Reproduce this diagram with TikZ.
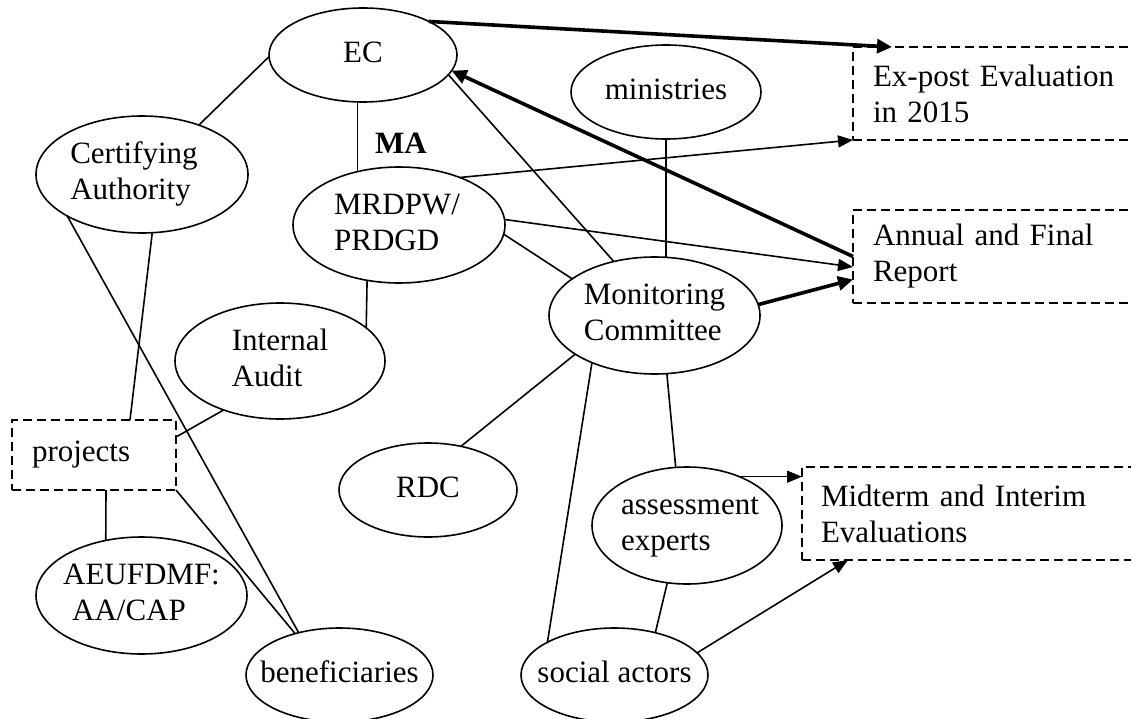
\documentclass[tikz,border=0pt]{standalone}
\usepackage{fontspec}
\setmainfont{Liberation Serif}
\usetikzlibrary{shapes.geometric,arrows.meta,calc}
\newcommand\ctx[1]{\makebox[0pt]{\begin{tabular}{@{}l@{}}#1\end{tabular}}}
\newcommand\ctxs[2]{\makebox[0pt]{\hspace*{#1}\begin{tabular}{@{}l@{}}#2\end{tabular}}}
\begin{document}
\begin{tikzpicture}[x=1pt,y=-1pt,
  every node/.style={font=\fontsize{31}{36}\selectfont},
  ell/.style={draw, ellipse, line width=1.6pt, inner sep=0pt, outer sep=0pt},
  dbox/.style={draw, rectangle, dash pattern=on 9pt off 5pt, line width=1.6pt,
    inner xsep=20pt, inner ysep=0pt, align=left, anchor=north west, outer sep=0pt},
  link/.style={line width=1.6pt},
  thinarrow/.style={line width=1.6pt, -{Triangle[length=15pt,width=12pt]}},
  boldarrow/.style={line width=3.6pt, -{Triangle[length=15pt,width=14pt]}}
]
\useasboundingbox (0,0) rectangle (1131,719);
\fill[white] (0,0) rectangle (1131,719);
\clip (0,0) rectangle (1131,719);

% ellipses
\node[ell, minimum width=188pt, minimum height=94pt] (EC) at (363,55) {\ctx{EC}};
\node[ell, minimum width=190pt, minimum height=94pt] (MIN) at (666,92) {\ctx{ministries}};
\node[ell, minimum width=212pt, minimum height=117pt] (CA) at (142,174.5) {\ctxs{-16pt}{Certifying\\Authority}};
\node[ell, minimum width=212pt, minimum height=116pt] (MR) at (399,225) {\ctxs{-4pt}{MRDPW/\\PRDGD}};
\node (MA) at (401,143) {\textbf{MA}};
\node[ell, minimum width=211pt, minimum height=117pt] (MC) at (654.5,315.5) {\ctx{Monitoring\\Committee}};
\node[ell, minimum width=210pt, minimum height=116pt] (IA) at (280,361) {\ctx{Internal\\Audit}};
\node[ell, minimum width=178pt, minimum height=94pt] (RDC) at (428,490) {\ctx{RDC}};
\node[ell, minimum width=190pt, minimum height=117pt] (AE) at (687,525.5) {\ctxs{6pt}{assessment\\experts}};
\node[ell, minimum width=187pt, minimum height=94pt] (SA) at (614.5,675) {\ctx{social actors}};
\node[ell, minimum width=187pt, minimum height=94pt] (BEN) at (339.5,675) {\ctx{beneficiaries}};
\node[ell, minimum width=211pt, minimum height=117pt] (AEU) at (141.5,595.5) {\ctx{AEUFDMF:\\\hspace*{9pt}AA/CAP}};

% dashed boxes
\node[dbox, text width=247pt, minimum height=93pt] (EXP) at (853,47) {Ex-post Evaluation\\in 2015};
\node[dbox, text width=247pt, minimum height=93pt] (ANN) at (853,210) {Annual and Final\\Report};
\node[dbox, inner xsep=19pt, text width=300pt, minimum height=93pt] (MID) at (802,467) {Midterm and Interim\\Evaluations};
\node[dbox, text width=124pt, minimum height=70pt] (PRJ) at (12,420) {projects};

% connectors
\draw[link] (EC.181) -- (CA.41);
\draw[link] (MR.128) -- (MR.128 |- EC.south);
\draw[link] (EC.-13) -- (MC.127);
\draw[boldarrow] (EC.27) -- ([xshift=39pt]EXP.north west);
\draw[boldarrow] (ANN.west) -- (EC.-10);
\draw[thinarrow] (MR.38) -- (EXP.south west);
\draw[thinarrow] (MR.3) -- ([yshift=-10.5pt]ANN.west);
\draw[link] (MR.-5) -- (MC.156);
\draw[link] (MIN.south) -- (MIN.south |- MC.north);
\draw[boldarrow] (MC.6) -- ([yshift=-23pt]ANN.west);
\draw[link] (MC.206) -- (RDC.53);
\draw[link] (MC.217) -- (SA.154);
\draw[link] (MC.-78) -- (AE.101);
\draw[thinarrow] (AE.43) -- (AE.43 -| MID.west);
\draw[link] (AE.-109) -- (SA.46);
\draw[thinarrow] (SA.15) -- ([xshift=46pt]MID.south west);
\draw[link] (MR.-120) -- (IA.21);
\draw[link] (IA.-139) -- ([yshift=18pt]PRJ.east);
\draw[link] (CA.-80) -- ([xshift=36pt]PRJ.north);
\draw[link] (CA.-151) -- (BEN.134);
\draw[link] (PRJ.south east) -- (BEN.137);
\draw[link] ([xshift=12pt]PRJ.south) -- (AEU.123);
\end{tikzpicture}
\end{document}
